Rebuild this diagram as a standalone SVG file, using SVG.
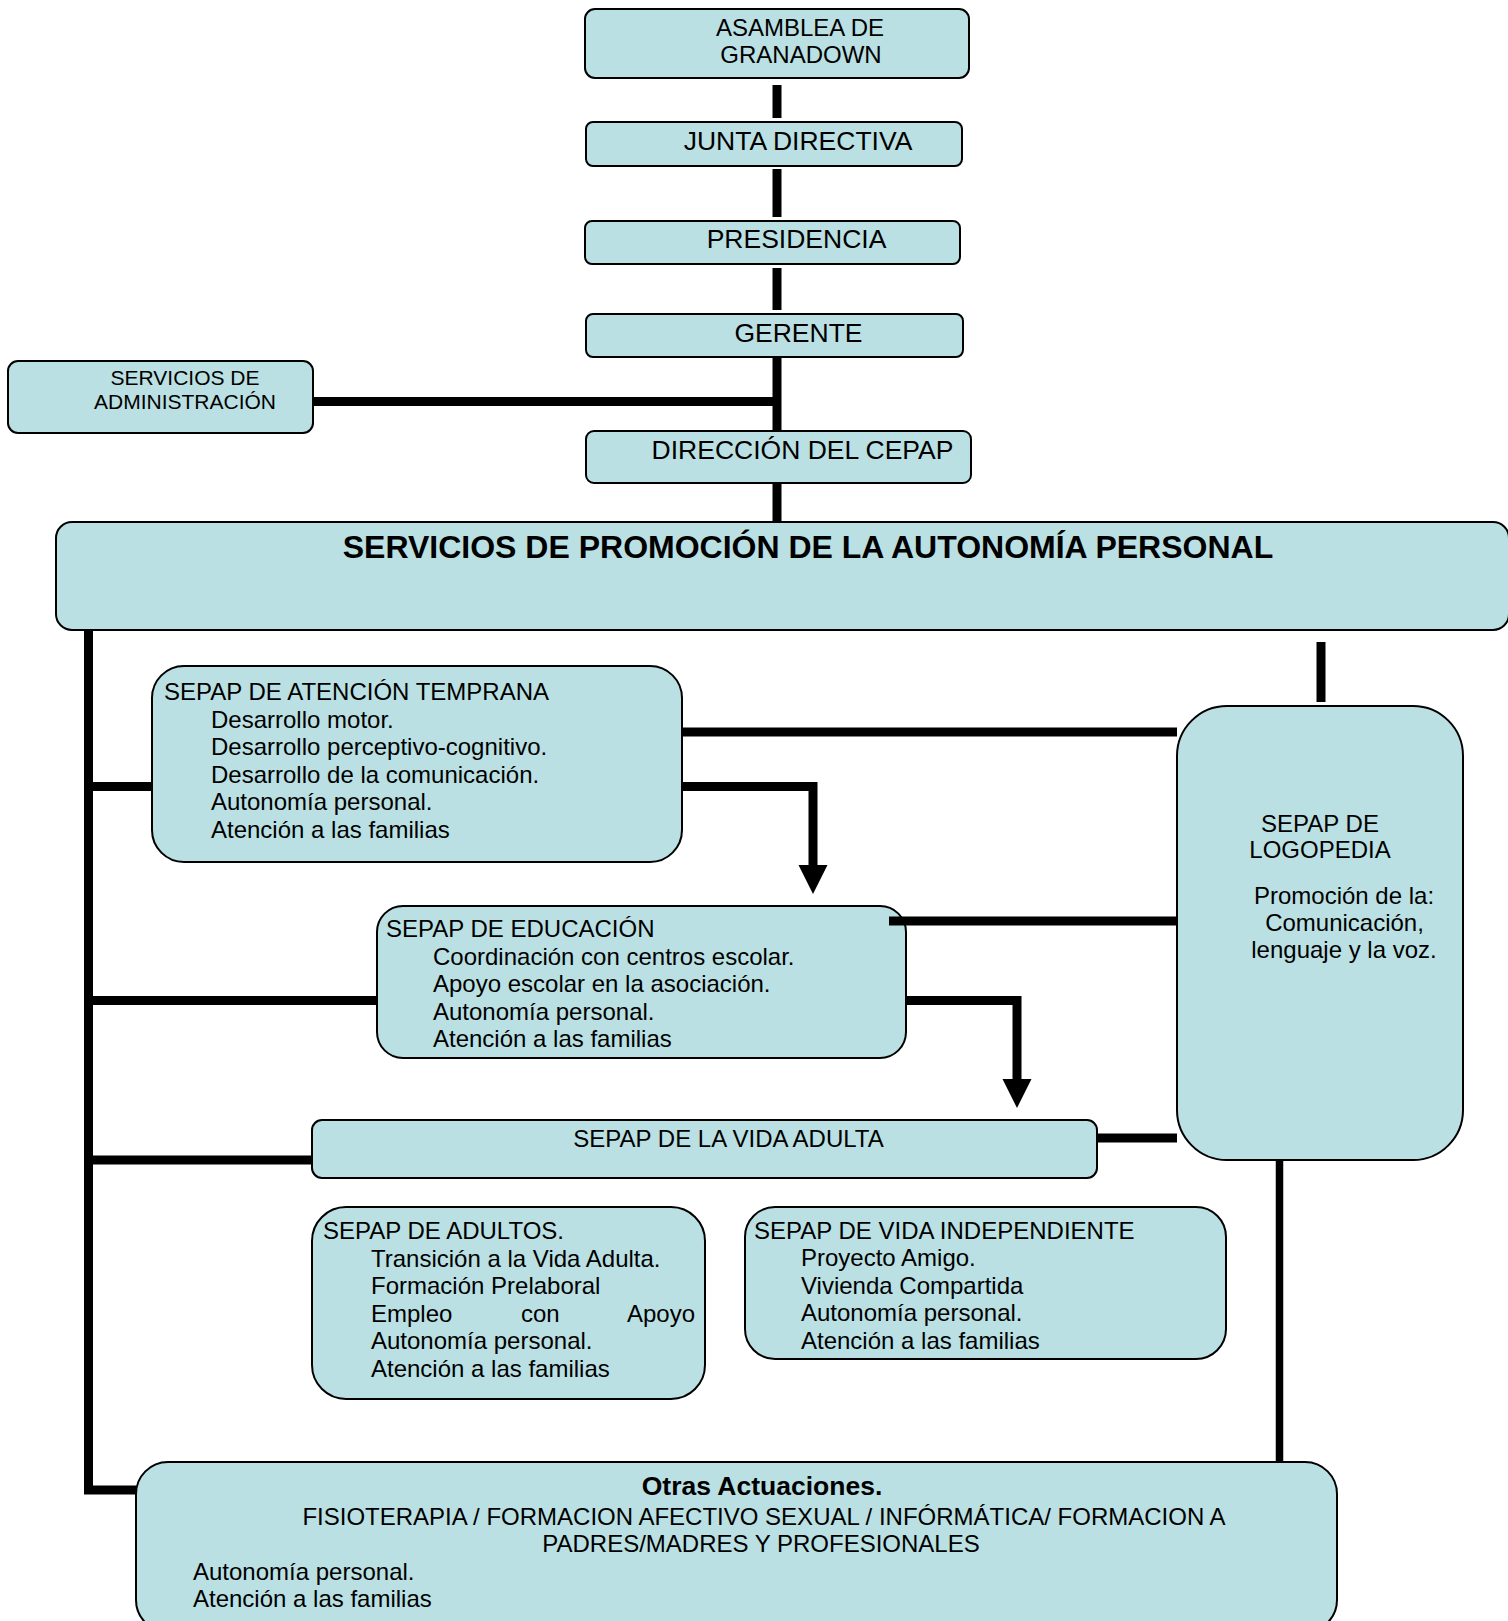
<svg xmlns="http://www.w3.org/2000/svg" width="1508" height="1621" viewBox="0 0 1508 1621">
<style>
.box{fill:#BAE0E3;stroke:#000;stroke-width:2}
.t{font-family:"Liberation Sans",Arial,sans-serif;font-size:24px;fill:#000}
.h{font-size:26.5px}
.s{font-size:21px}
.b{font-weight:bold}
.c{text-anchor:middle}
.conn{stroke:#000;stroke-width:9;fill:none;stroke-linejoin:miter;stroke-linecap:butt}
</style>
<defs>
<marker id="ah" markerUnits="userSpaceOnUse" markerWidth="30" markerHeight="30" viewBox="0 0 30 30" refX="0" refY="14.5" orient="auto">
<path d="M0,0 L29,14.5 L0,29 Z" fill="#000"/>
</marker>
</defs>
<rect width="1508" height="1621" fill="#fff"/>

<g id="asamblea">
<rect class="box" x="585" y="9" width="384" height="69" rx="10"/>
<text class="t c" x="800" y="36">ASAMBLEA DE</text>
<text class="t c" x="801" y="63">GRANADOWN</text>
</g>
<g id="junta">
<rect class="box" x="586" y="122" width="376" height="44" rx="7"/>
<text class="t h c" x="798" y="150">JUNTA DIRECTIVA</text>
</g>
<g id="presidencia">
<rect class="box" x="585" y="221" width="375" height="43" rx="7"/>
<text class="t h c" x="796.5" y="248">PRESIDENCIA</text>
</g>
<g id="gerente">
<rect class="box" x="586" y="314" width="377" height="43" rx="7"/>
<text class="t h c" x="798.5" y="342">GERENTE</text>
</g>
<g id="administracion">
<rect class="box" x="8" y="361" width="305" height="72" rx="10"/>
<text class="t s c" x="185" y="385">SERVICIOS DE</text>
<text class="t s c" x="185" y="409">ADMINISTRACIÓN</text>
</g>
<g id="direccion">
<rect class="box" x="586" y="431" width="385" height="52" rx="8"/>
<text class="t h c" x="802.5" y="459">DIRECCIÓN DEL CEPAP</text>
</g>
<g id="servicios">
<rect class="box" x="56" y="522" width="1453" height="108" rx="16"/>
<text class="t b c" x="808" y="558" style="font-size:32px">SERVICIOS DE PROMOCIÓN DE LA AUTONOMÍA PERSONAL</text>
</g>
<g id="atencion">
<rect class="box" x="152" y="666" width="530" height="196" rx="32"/>
<text class="t" x="164" y="700">SEPAP DE ATENCIÓN TEMPRANA</text>
<text class="t" x="211" y="727.6">Desarrollo motor.</text>
<text class="t" x="211" y="755.2">Desarrollo perceptivo-cognitivo.</text>
<text class="t" x="211" y="782.8">Desarrollo de la comunicación.</text>
<text class="t" x="211" y="810.4">Autonomía personal.</text>
<text class="t" x="211" y="838">Atención a las familias</text>
</g>
<g id="educacion">
<rect class="box" x="377" y="906" width="529" height="152" rx="26"/>
<text class="t" x="386" y="937">SEPAP DE EDUCACIÓN</text>
<text class="t" x="433" y="964.6">Coordinación con centros escolar.</text>
<text class="t" x="433" y="992.2">Apoyo escolar en la asociación.</text>
<text class="t" x="433" y="1019.8">Autonomía personal.</text>
<text class="t" x="433" y="1047.4">Atención a las familias</text>
</g>
<g id="logopedia">
<rect class="box" x="1177" y="706" width="286" height="454" rx="50"/>
<text class="t c" x="1320" y="832">SEPAP DE</text>
<text class="t c" x="1320" y="858">LOGOPEDIA</text>
<text class="t c" x="1344" y="904">Promoción de la:</text>
<text class="t c" x="1344.5" y="931">Comunicación,</text>
<text class="t c" x="1344" y="958">lenguaje y la voz.</text>
</g>
<g id="vida-adulta">
<rect class="box" x="312" y="1120" width="785" height="58" rx="10"/>
<text class="t c" x="728.5" y="1147">SEPAP DE LA VIDA ADULTA</text>
</g>
<g id="adultos">
<rect class="box" x="312" y="1207" width="393" height="192" rx="34"/>
<text class="t" x="323" y="1239">SEPAP DE ADULTOS.</text>
<text class="t" x="371" y="1266.6">Transición a la Vida Adulta.</text>
<text class="t" x="371" y="1294.2">Formación Prelaboral</text>
<text class="t" y="1321.8"><tspan x="371">Empleo</tspan><tspan x="521">con</tspan><tspan x="627">Apoyo</tspan></text>
<text class="t" x="371" y="1349.4">Autonomía personal.</text>
<text class="t" x="371" y="1377">Atención a las familias</text>
</g>
<g id="vida-independiente">
<rect class="box" x="745" y="1207" width="481" height="152" rx="30"/>
<text class="t" x="754" y="1238.5">SEPAP DE VIDA INDEPENDIENTE</text>
<text class="t" x="801" y="1266">Proyecto Amigo.</text>
<text class="t" x="801" y="1293.6">Vivienda Compartida</text>
<text class="t" x="801" y="1321.2">Autonomía personal.</text>
<text class="t" x="801" y="1348.8">Atención a las familias</text>
</g>
<g id="otras">
<rect class="box" x="136" y="1462" width="1201" height="170" rx="32"/>
<text class="t h b c" x="762" y="1495">Otras Actuaciones.</text>
<text class="t c" x="764" y="1525">FISIOTERAPIA / FORMACION AFECTIVO SEXUAL / INFÓRMÁTICA/ FORMACION A</text>
<text class="t c" x="761" y="1552">PADRES/MADRES Y PROFESIONALES</text>
<text class="t" x="193" y="1580">Autonomía personal.</text>
<text class="t" x="193" y="1607">Atención a las familias</text>
</g>

<g id="connectors">
<path class="conn" d="M777,85 V118"/>
<path class="conn" d="M777,169 V217"/>
<path class="conn" d="M777,268 V310"/>
<path class="conn" d="M777,358 V431"/>
<path class="conn" d="M313,401.5 H777"/>
<path class="conn" d="M777,483 V522"/>
<path class="conn" d="M88.5,630 V1490 H136"/>
<path class="conn" d="M88.5,786.5 H152"/>
<path class="conn" d="M88.5,1000.5 H377"/>
<path class="conn" d="M88.5,1160 H312"/>
<path class="conn" d="M1321,642 V702"/>
<path class="conn" d="M682,732 H1177"/>
<path class="conn" d="M889,921 H1177"/>
<path class="conn" d="M1097,1138 H1177"/>
<path class="conn" d="M1279.5,1160 V1462" style="stroke-width:7.5"/>
<path class="conn" d="M682,786.5 H813 V865" marker-end="url(#ah)"/>
<path class="conn" d="M906,1000.5 H1017 V1079" marker-end="url(#ah)"/>
</g>
</svg>
